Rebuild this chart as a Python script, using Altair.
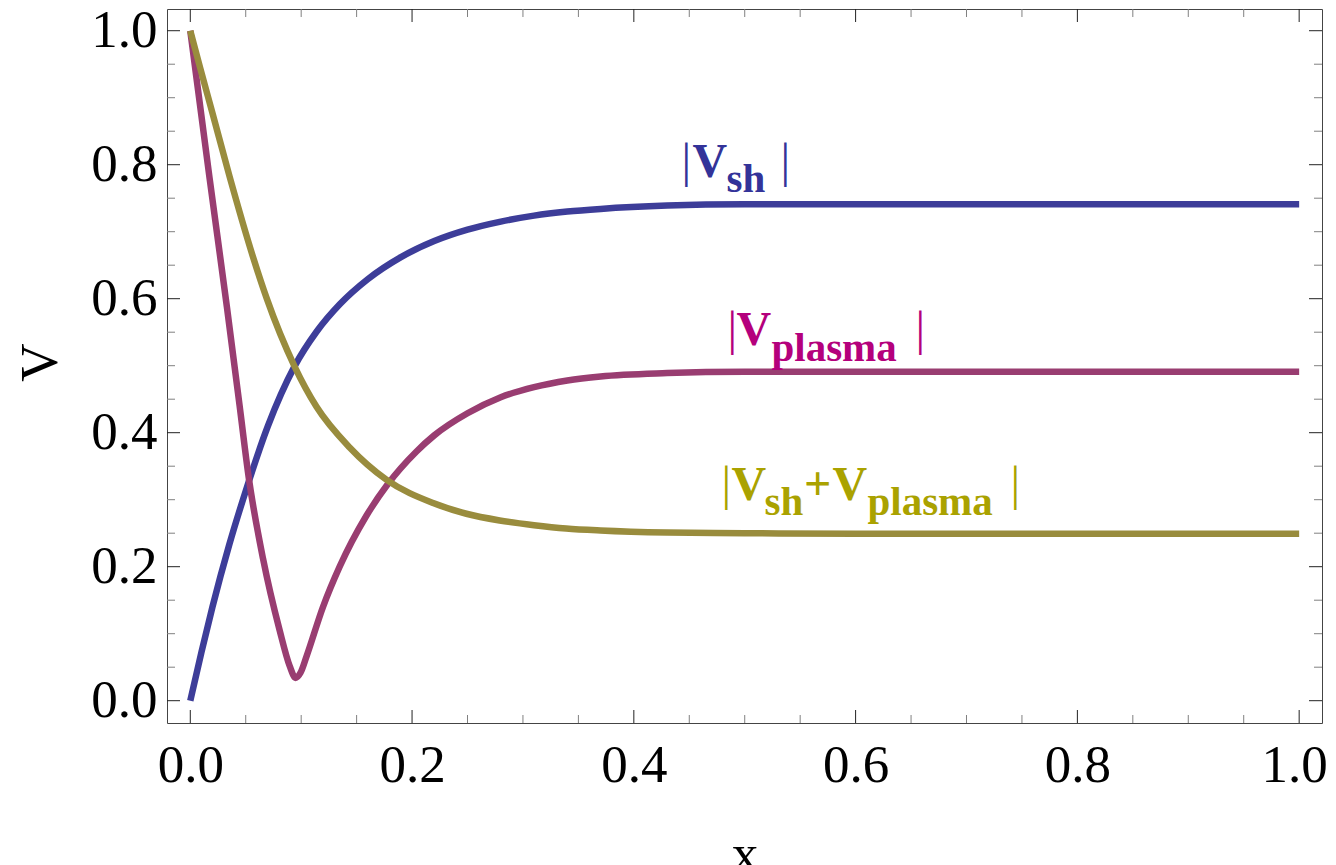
import altair as alt
import pandas as pd

# ---------------- data ----------------
blue_x = [0.0, 0.01, 0.02, 0.035, 0.05, 0.07, 0.094, 0.114, 0.135, 0.16, 0.19, 0.22, 0.25, 0.28, 0.31, 0.34, 0.37, 0.43, 0.5, 0.6, 0.8, 1.0]
blue_y = [0.0, 0.072, 0.140, 0.232, 0.313, 0.410, 0.499, 0.551, 0.592, 0.629, 0.662, 0.686, 0.703, 0.715, 0.724, 0.730, 0.734, 0.739, 0.741, 0.741, 0.741, 0.741]

mag_x = [0.0, 0.0174, 0.033, 0.0445, 0.0528, 0.0656, 0.0806, 0.0896, 0.095, 0.0995, 0.1046, 0.1197, 0.1347, 0.1588, 0.178, 0.204, 0.22, 0.25, 0.28, 0.31, 0.34, 0.37, 0.43, 0.5, 0.6, 0.8, 1.0]
mag_y = [1.0, 0.780, 0.588, 0.440, 0.332, 0.212, 0.105, 0.052, 0.034, 0.042, 0.065, 0.140, 0.200, 0.276, 0.323, 0.372, 0.396, 0.429, 0.453, 0.468, 0.478, 0.484, 0.489, 0.491, 0.491, 0.491, 0.491]

olive_x = [0.0, 0.009, 0.02, 0.0355, 0.057, 0.069, 0.094, 0.1137, 0.1437, 0.1768, 0.219, 0.249, 0.279, 0.31, 0.339, 0.37, 0.43, 0.5, 0.6, 0.8, 1.0]
olive_y = [1.0, 0.944, 0.877, 0.782, 0.660, 0.600, 0.499, 0.439, 0.378, 0.330, 0.295, 0.279, 0.269, 0.262, 0.257, 0.254, 0.251, 0.250, 0.249, 0.249, 0.249]

series_names = ["sh", "plasma", "sum"]
series_colors = ["#3d3d99", "#993d71", "#998c3d"]

tick_labels = [0.0, 0.2, 0.4, 0.6, 0.8, 1.0]
major_ticks = [0.0, 0.2, 0.4, 0.6, 0.8, 1.0]
minor_ticks = [0.05, 0.1, 0.15, 0.25, 0.3, 0.35, 0.45, 0.5, 0.55, 0.65, 0.7, 0.75, 0.85, 0.9, 0.95]

# annotation pieces (text, anchor x, anchor y in data units, kind, colour)
ann_text = ["|", "V", "sh", "|",
            "|", "V", "plasma", "|",
            "|", "V", "sh", "+", "V", "plasma", "|"]
ann_x = [0.4429, 0.4529, 0.4835, 0.5323,
         0.4844, 0.4926, 0.5241, 0.6540,
         0.4790, 0.4881, 0.5178, 0.5534, 0.5792, 0.6107, 0.7397]
ann_y = [0.7811, 0.7811, 0.7587, 0.7811,
         0.5313, 0.5313, 0.5064, 0.5313,
         0.2990, 0.2990, 0.2766, 0.2990, 0.2990, 0.2766, 0.2990]
ann_kind = ["bar", "main", "sub", "bar",
            "bar", "main", "sub", "bar",
            "bar", "main", "sub", "main", "main", "sub", "bar"]
ann_color = ["#333399"] * 4 + ["#b4007c"] * 4 + ["#aaa200"] * 7

# ---------------- build tables ----------------
rows = []
for name, xs_, ys_ in [("sh", blue_x, blue_y), ("plasma", mag_x, mag_y), ("sum", olive_x, olive_y)]:
    for a, b in zip(xs_, ys_):
        rows.append({"x": a, "V": b, "series": name})
df = pd.DataFrame(rows)

major_df = pd.DataFrame({"v": major_ticks})
minor_df = pd.DataFrame({"v": minor_ticks})
ann_df = pd.DataFrame({"t": ann_text, "x": ann_x, "y": ann_y, "kind": ann_kind, "c": ann_color})

W, H = 1155, 714
FONT = "Liberation Serif"
FS = 53
xs = alt.Scale(domain=[-0.021, 1.0206], nice=False, zero=False)
ys = alt.Scale(domain=[-0.0333, 1.0324], nice=False, zero=False)

x_axis = alt.Axis(values=tick_labels, format=".1f", ticks=False, domain=False, grid=False,
                  labelFont=FONT, labelFontSize=FS, labelColor="black", labelPadding=58,
                  labelBaseline="alphabetic", labelFlush=False, labelOverlap=False, labelBound=False,
                  labelOffset={"condition": {"test": "datum.value == 1", "value": -5}, "value": 0},
                  title="x", titleFont=FONT, titleFontSize=FS, titleFontWeight="normal",
                  titleColor="black", titleX=W / 2, titleY=147, titleAlign="center",
                  titleBaseline="alphabetic")
y_axis = alt.Axis(values=tick_labels, format=".1f", ticks=False, domain=False, grid=False,
                  labelFont=FONT, labelFontSize=FS, labelColor="black", labelPadding=10,
                  labelFlush=False, labelOverlap=False, labelBound=False,
                  title="V", titleFont=FONT, titleFontSize=FS, titleFontWeight="normal",
                  titleColor="black", titleAngle=270, titleX=-111, titleY=353,
                  titleAlign="center", titleBaseline="alphabetic")

X = lambda f: alt.X(f, scale=xs, axis=x_axis)
Y = lambda f: alt.Y(f, scale=ys, axis=y_axis)

layers = []
for name, col in zip(series_names, series_colors):
    layers.append(
        alt.Chart(df).transform_filter(alt.datum.series == name)
        .mark_line(strokeWidth=6.5, color=col, interpolate="monotone", strokeCap="butt")
        .encode(x=X("x:Q"), y=Y("V:Q"))
    )

for data, length, col in [(major_df, 13, "#222222"), (minor_df, 8, "#808080")]:
    base = alt.Chart(data).mark_rule(color=col, strokeWidth=1)
    layers.append(base.encode(x=X("v:Q"), y=alt.value(H), y2=alt.value(H - length)))
    layers.append(base.encode(x=X("v:Q"), y=alt.value(0), y2=alt.value(length)))
    layers.append(base.encode(y=Y("v:Q"), x=alt.value(0), x2=alt.value(length)))
    layers.append(base.encode(y=Y("v:Q"), x=alt.value(W), x2=alt.value(W - length)))

for kind, size, weight in [("bar", 48, "normal"), ("main", 48, "bold"), ("sub", 41, "bold")]:
    layers.append(
        alt.Chart(ann_df).transform_filter(alt.datum.kind == kind)
        .mark_text(font=FONT, fontSize=size, fontWeight=weight, align="left", baseline="alphabetic")
        .encode(x=X("x:Q"), y=Y("y:Q"), text="t:N", color=alt.Color("c:N", scale=None))
    )

chart = (
    alt.layer(*layers)
    .properties(width=W, height=H, autosize=alt.AutoSizeParams(type="none"),
                padding={"left": 159, "top": 1, "right": 6, "bottom": 160},
                background="white")
    .configure_view(stroke="#444444", strokeWidth=1)
)

chart.save("out.html", embed_options={"renderer": "svg", "actions": False})
